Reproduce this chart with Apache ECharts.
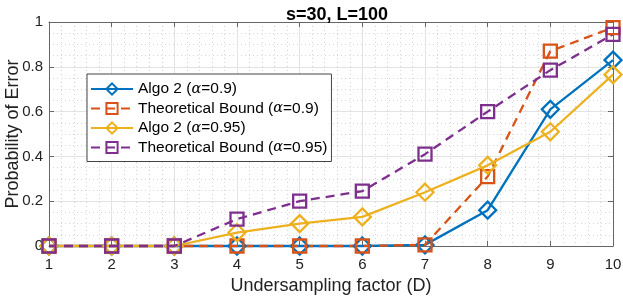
<!DOCTYPE html>
<html><head><meta charset="utf-8">
<script src="https://cdn.jsdelivr.net/npm/echarts@6/dist/echarts.min.js"></script>
<style>html,body{margin:0;padding:0;background:#fff}#c{width:623px;height:297px}</style>
</head><body><div id="c"></div>
<script>
const xValues = [1,2,3,4,5,6,7,8,9,10];
const algo09 = [0,0,0,0,0,0,0.005,0.16,0.61,0.83];
const bound09 = [0,0,0,0,0,0,0.005,0.31,0.87,0.975];
const algo095 = [0,0,0,0.06,0.10,0.13,0.24,0.36,0.51,0.765];
const bound095 = [0,0,0,0.12,0.20,0.245,0.41,0.60,0.785,0.945];
const seriesNames = ['Algo 2 (α=0.9)','Theoretical Bound (α=0.9)','Algo 2 (α=0.95)','Theoretical Bound (α=0.95)'];
const titleText = 's=30, L=100';
const xName = 'Undersampling factor (D)';
const yName = 'Probability of Error';

const colors = ['#0072BD','#D95319','#EDB120','#7E2F8E'];
const FONT = 'Liberation Sans';
function pairs(arr){ return xValues.map((x,i)=>[x,arr[i]]); }
function mk(name, data, color, sym, dashed, size){
  return {
    name, type:'line', data: pairs(data), clip:false,
    symbol: sym, symbolSize: size, showSymbol:true,
    lineStyle:{color, width:2.3, type: dashed ? [9,6] : 'solid'},
    itemStyle:{color:'rgba(255,255,255,0)', borderColor:color, borderWidth:2.3},
    emphasis:{disabled:true}, animation:false
  };
}
const chart = echarts.init(document.getElementById('c'), null, {renderer:'canvas'});
const axisCol = '#666';
chart.setOption({
  animation:false,
  color: colors,
  title:{text:titleText, left:332, textAlign:'center', top:1,
    textStyle:{fontFamily:FONT, fontSize:18, fontWeight:'bold', color:'#000'}},
  grid:{left:49, right:10, top:22, bottom:51, show:false, containLabel:false, outerBoundsMode:'none'},
  legend:{
    orient:'vertical', left:87, top:74, itemWidth:42, itemHeight:14, itemGap:3.5,
    backgroundColor:'#fff', borderColor:'#444', borderWidth:1, padding:[7,4,6,3],
    data: seriesNames,
    textStyle:{fontFamily:FONT, fontSize:15.5, color:'#000',
      rich:{n:{fontFamily:FONT, fontSize:15.5}, a:{fontFamily:'DejaVu Serif', fontStyle:'italic', fontSize:14.5}}},
    formatter: function(name){
      const i = name.indexOf('α');
      return '{n|'+name.slice(0,i)+'}{a|α}{n|'+name.slice(i+1)+'}';
    }
  },
  xAxis:[{
    type:'value', min:1, max:10, interval:1,
    name:xName, nameLocation:'middle', nameGap:31, nameMoveOverlap:false,
    nameTextStyle:{fontFamily:FONT, fontSize:18, color:'#222'},
    axisLine:{show:true, onZero:false, lineStyle:{color:axisCol, width:1}},
    axisTick:{show:true, inside:true, length:5, lineStyle:{color:axisCol}},
    axisLabel:{fontFamily:FONT, fontSize:15, color:'#222', margin:11},
    splitLine:{show:true, lineStyle:{color:'#e3e3e3', width:1}},
    minorTick:{show:false, splitNumber:5},
    minorSplitLine:{show:true, lineStyle:{color:'#d6d6d6', width:1, type:[1,3]}}
  },{
    type:'value', min:1, max:10, interval:1, position:'top',
    axisLine:{show:true, onZero:false, lineStyle:{color:axisCol, width:1}},
    axisTick:{show:true, inside:true, length:5, lineStyle:{color:axisCol}},
    axisLabel:{show:false}, splitLine:{show:false}
  }],
  yAxis:[{
    type:'value', min:0, max:1, interval:0.2,
    name:yName, nameLocation:'middle', nameGap:27, nameRotate:90, nameMoveOverlap:false,
    nameTextStyle:{fontFamily:FONT, fontSize:18, color:'#222'},
    axisLine:{show:true, onZero:false, lineStyle:{color:axisCol, width:1}},
    axisTick:{show:true, inside:true, length:5, lineStyle:{color:axisCol}},
    axisLabel:{fontFamily:FONT, fontSize:15, color:'#222', margin:6,
      formatter:v=>String(Math.round(v*10)/10)},
    splitLine:{show:true, lineStyle:{color:'#e3e3e3', width:1}},
    minorTick:{show:false, splitNumber:4},
    minorSplitLine:{show:true, lineStyle:{color:'#d6d6d6', width:1, type:[1,3]}}
  },{
    type:'value', min:0, max:1, interval:0.2, position:'right',
    axisLine:{show:true, onZero:false, lineStyle:{color:axisCol, width:1}},
    axisTick:{show:true, inside:true, length:5, lineStyle:{color:axisCol}},
    axisLabel:{show:false}, splitLine:{show:false}
  }],
  series:[
    mk(seriesNames[0], algo09, colors[0], 'diamond', false, 17),
    mk(seriesNames[1], bound09, colors[1], 'rect', true, 13),
    mk(seriesNames[2], algo095, colors[2], 'diamond', false, 17),
    mk(seriesNames[3], bound095, colors[3], 'rect', true, 13)
  ]
});
</script></body></html>
